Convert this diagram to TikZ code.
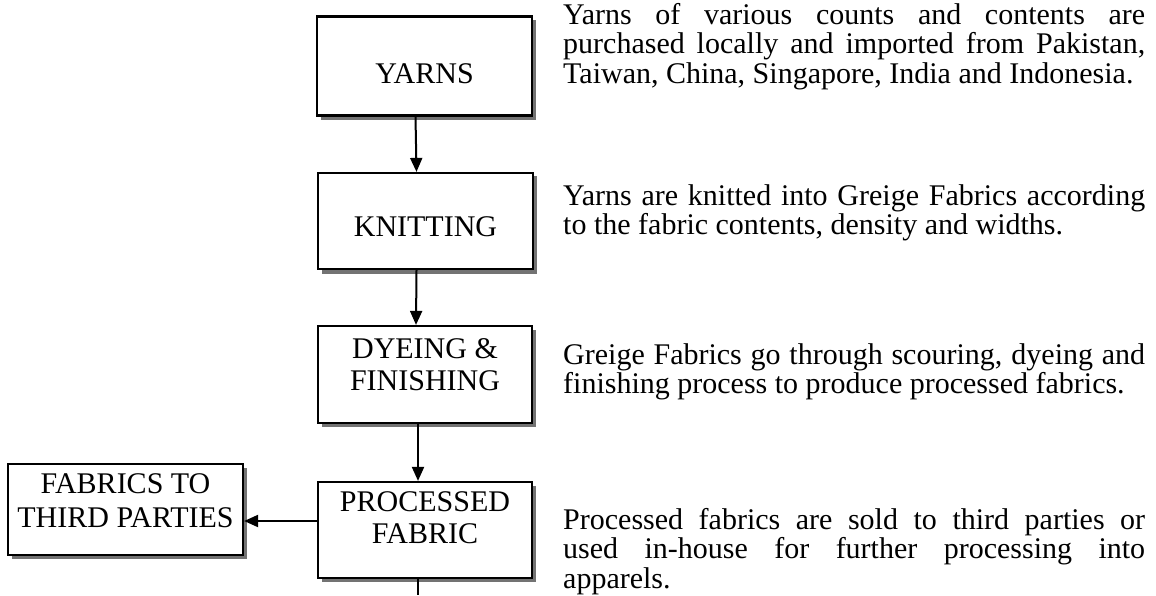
\documentclass[tikz,border=0pt]{standalone}
\usepackage{fontspec}
\setmainfont{Liberation Serif}
\usetikzlibrary{arrows.meta}
\newcommand\blabel[2]{\raisebox{#1}[\height][\depth]{\begin{tabular}{@{}c@{}}#2\end{tabular}}}
\tikzset{
  procbox/.style={draw=black, line width=2.2pt, fill=white, inner sep=0pt, align=center,
    font=\fontsize{30}{32}\selectfont},
  shadowfill/.style={fill=black!55},
  arr/.style={line width=2pt, -{Triangle[length=14pt,width=12pt]}},
  plain/.style={line width=2pt},
  desc/.style={anchor=base west, inner sep=0pt, text width=582pt, align=justify,
    font=\fontsize{30}{29.5}\selectfont}
}
\begin{document}
\begin{tikzpicture}[x=1pt,y=-1pt]
\useasboundingbox (0,0) rectangle (1156,595);
% shadows
\fill[shadowfill] (321,20) rectangle (536,120);
\fill[shadowfill] (322,176) rectangle (537,274);
\fill[shadowfill] (322,330) rectangle (536,427);
\fill[shadowfill] (322,486) rectangle (536,582);
\fill[shadowfill] (12,468) rectangle (247,559);
% boxes
\node[procbox, minimum width=215pt, minimum height=99pt] (yarns) at (424.5,66) {\blabel{-11pt}{YARNS}};
\node[procbox, minimum width=215pt, minimum height=96pt] (knit) at (425.5,221) {\blabel{-9pt}{KNITTING}};
\node[procbox, minimum width=214pt, minimum height=97pt] (dye) at (425,374.5) {\blabel{6pt}{DYEING \&\\ FINISHING}};
\node[procbox, minimum width=214pt, minimum height=96pt] (proc) at (425,530) {\blabel{9pt}{PROCESSED\\ FABRIC}};
\node[procbox, minimum width=235pt, minimum height=91pt] (fab) at (125.5,509.5) {\blabel{5pt}{FABRICS TO\\[2pt] THIRD PARTIES}};
% connectors
\draw[arr] ([xshift=-9pt]yarns.south) -- ([xshift=-9pt]knit.north);
\draw[arr] ([xshift=-9pt]knit.south) -- ([xshift=-9pt]dye.north);
\draw[arr] ([xshift=-7pt]dye.south) -- ([xshift=-7pt]proc.north);
\draw[arr] ([yshift=9pt]proc.west) -- ([yshift=9pt]proc.west -| fab.east);
\coordinate (down) at (418,595);
\draw[plain] (proc.south -| down) -- (down);
% descriptions
\node[desc] (t1) at (563,24) {Yarns of various counts and contents are\linebreak purchased locally and imported from Pakistan,\linebreak Taiwan, China, Singapore, India and Indonesia.};
\node[desc] (t2) at (563,205) {Yarns are knitted into Greige Fabrics according\linebreak to the fabric contents, density and widths.};
\node[desc] (t3) at (563,364) {Greige Fabrics go through scouring, dyeing and\linebreak finishing process to produce processed fabrics.};
\node[desc] (t4) at (563,529) {Processed fabrics are sold to third parties or\linebreak used in-house for further processing into\linebreak apparels.};
\end{tikzpicture}
\end{document}
